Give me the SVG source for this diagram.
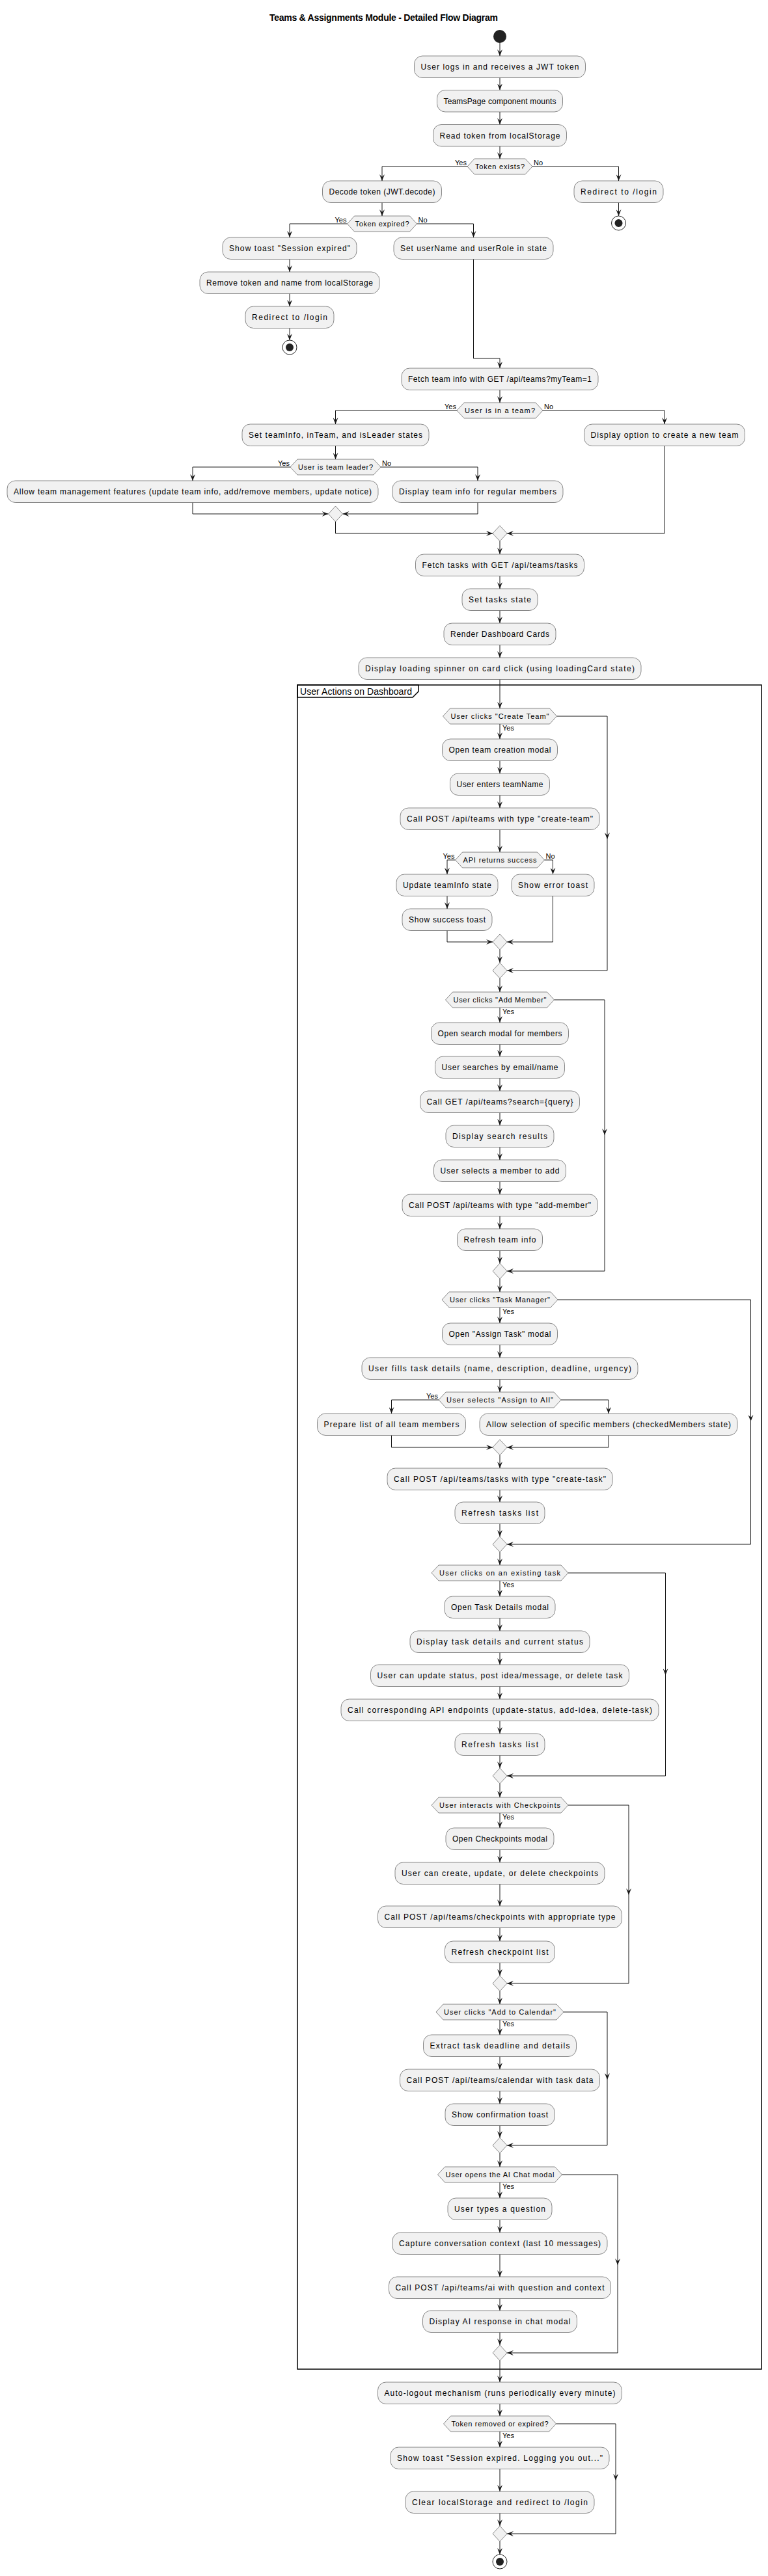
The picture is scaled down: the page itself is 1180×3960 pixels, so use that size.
<svg xmlns="http://www.w3.org/2000/svg" width="1180" height="3960" viewBox="0 0 1180 3960">
<defs>
<style>
.act{fill:#F1F1F1;stroke:#181818;stroke-width:0.5}
.t{font-family:"Liberation Sans",Arial,sans-serif;font-size:12px;fill:#000000;text-anchor:middle}
.ht{font-size:11px}
.lbl{font-family:"Liberation Sans",Arial,sans-serif;font-size:11px;fill:#000000}
.end{text-anchor:end}
.c{fill:none;stroke:#181818;stroke-width:1}
.ttl{font-family:"Liberation Sans",Arial,sans-serif;font-size:14px;font-weight:bold;fill:#000000;text-anchor:middle}
.frame{fill:none;stroke:#000000;stroke-width:1.5}
.start{fill:#222222}
.stopo{fill:none;stroke:#222222;stroke-width:1}
.stopi{fill:#222222}
</style>
<marker id="ah" viewBox="0 0 10 8" refX="10" refY="4" markerWidth="10" markerHeight="8" markerUnits="userSpaceOnUse" orient="auto"><path d="M0,0 L10,4 L0,8 L4,4 Z" fill="#181818"/></marker>
</defs>
<rect width="1180" height="3960" fill="#FFFFFF"/>
<text class="ttl" x="589.5" y="32" textLength="351" lengthAdjust="spacing">Teams &amp; Assignments Module - Detailed Flow Diagram</text>

<g id="frame">
<rect class="frame" x="457" y="1053" width="713" height="2589"/>
<polygon class="frame" points="457,1053 643,1053 643,1063 634,1072 457,1072"/>
<text class="lbl" style="font-size:14px" x="461" y="1068" textLength="172" lengthAdjust="spacing">User Actions on Dashboard</text>
</g>

<g id="connectors">
<path class="c" d="M768,66 V86" marker-end="url(#ah)"/>
<path class="c" d="M768,119.5 V138.5" marker-end="url(#ah)"/>
<path class="c" d="M768,172 V191.5" marker-end="url(#ah)"/>
<path class="c" d="M768,225 V244" marker-end="url(#ah)"/>
<path class="c" d="M718,256 H587 V278" marker-end="url(#ah)"/>
<path class="c" d="M818,256 H950.5 V278" marker-end="url(#ah)"/>
<path class="c" d="M950.5,311.5 V332" marker-end="url(#ah)"/>
<path class="c" d="M587,311.5 V332" marker-end="url(#ah)"/>
<path class="c" d="M533.5,344 H445 V365" marker-end="url(#ah)"/>
<path class="c" d="M640.5,344 H727.5 V365" marker-end="url(#ah)"/>
<path class="c" d="M445,398.5 V418" marker-end="url(#ah)"/>
<path class="c" d="M445,451.5 V471" marker-end="url(#ah)"/>
<path class="c" d="M445,504.5 V523" marker-end="url(#ah)"/>
<path class="c" d="M727.5,398.5 V551 H768 V566" marker-end="url(#ah)"/>
<path class="c" d="M768,599.5 V619" marker-end="url(#ah)"/>
<path class="c" d="M702,631 H515.5 V652" marker-end="url(#ah)"/>
<path class="c" d="M834,631 H1021 V652" marker-end="url(#ah)"/>
<path class="c" d="M515.5,685.5 V706" marker-end="url(#ah)"/>
<path class="c" d="M446,718 H296 V739" marker-end="url(#ah)"/>
<path class="c" d="M585,718 H734 V739" marker-end="url(#ah)"/>
<path class="c" d="M296,772.5 V790 H504.5" marker-end="url(#ah)"/>
<path class="c" d="M734,772.5 V790 H526.5" marker-end="url(#ah)"/>
<path class="c" d="M515.5,802 V820 H757" marker-end="url(#ah)"/>
<path class="c" d="M1021,685.5 V820 H779" marker-end="url(#ah)"/>
<path class="c" d="M768,832 V852" marker-end="url(#ah)"/>
<path class="c" d="M768,885.5 V905" marker-end="url(#ah)"/>
<path class="c" d="M768,938.5 V958" marker-end="url(#ah)"/>
<path class="c" d="M768,991.5 V1011" marker-end="url(#ah)"/>
<path class="c" d="M768,1044.5 V1089" marker-end="url(#ah)"/>
<path class="c" d="M768,1113 V1136" marker-end="url(#ah)"/>
<path class="c" d="M768,1169.5 V1189" marker-end="url(#ah)"/>
<path class="c" d="M768,1222.5 V1242" marker-end="url(#ah)"/>
<path class="c" d="M768,1275.5 V1310" marker-end="url(#ah)"/>
<path class="c" d="M699.5,1322 H687 V1344" marker-end="url(#ah)"/>
<path class="c" d="M836.5,1322 H849.5 V1344" marker-end="url(#ah)"/>
<path class="c" d="M687,1377.5 V1397" marker-end="url(#ah)"/>
<path class="c" d="M687,1430.5 V1448 H757" marker-end="url(#ah)"/>
<path class="c" d="M849.5,1377.5 V1448 H779" marker-end="url(#ah)"/>
<path class="c" d="M768,1460 V1480" marker-end="url(#ah)"/>
<path class="c" d="M855.5,1101 H933 V1290" marker-end="url(#ah)"/>
<path class="c" d="M933,1290 V1492 H779" marker-end="url(#ah)"/>
<path class="c" d="M768,1504 V1525" marker-end="url(#ah)"/>
<path class="c" d="M768,1549 V1572" marker-end="url(#ah)"/>
<path class="c" d="M768,1605.5 V1624" marker-end="url(#ah)"/>
<path class="c" d="M768,1657.5 V1677" marker-end="url(#ah)"/>
<path class="c" d="M768,1710.5 V1730" marker-end="url(#ah)"/>
<path class="c" d="M768,1763.5 V1783" marker-end="url(#ah)"/>
<path class="c" d="M768,1816.5 V1836" marker-end="url(#ah)"/>
<path class="c" d="M768,1869.5 V1889" marker-end="url(#ah)"/>
<path class="c" d="M768,1922.5 V1942" marker-end="url(#ah)"/>
<path class="c" d="M851.5,1537 H929 V1745" marker-end="url(#ah)"/>
<path class="c" d="M929,1745 V1954 H779" marker-end="url(#ah)"/>
<path class="c" d="M768,1966 V1986" marker-end="url(#ah)"/>
<path class="c" d="M768,2010 V2034" marker-end="url(#ah)"/>
<path class="c" d="M768,2067.5 V2087" marker-end="url(#ah)"/>
<path class="c" d="M768,2120.5 V2140" marker-end="url(#ah)"/>
<path class="c" d="M674,2152 H601.5 V2173" marker-end="url(#ah)"/>
<path class="c" d="M862,2152 H935 V2173" marker-end="url(#ah)"/>
<path class="c" d="M601.5,2206.5 V2225 H757" marker-end="url(#ah)"/>
<path class="c" d="M935,2206.5 V2225 H779" marker-end="url(#ah)"/>
<path class="c" d="M768,2237 V2257" marker-end="url(#ah)"/>
<path class="c" d="M768,2290.5 V2309" marker-end="url(#ah)"/>
<path class="c" d="M768,2342.5 V2362" marker-end="url(#ah)"/>
<path class="c" d="M857,1998 H1153.5 V2185" marker-end="url(#ah)"/>
<path class="c" d="M1153.5,2185 V2374 H779" marker-end="url(#ah)"/>
<path class="c" d="M768,2386 V2406" marker-end="url(#ah)"/>
<path class="c" d="M768,2430 V2454" marker-end="url(#ah)"/>
<path class="c" d="M768,2487.5 V2507" marker-end="url(#ah)"/>
<path class="c" d="M768,2540.5 V2559" marker-end="url(#ah)"/>
<path class="c" d="M768,2592.5 V2612" marker-end="url(#ah)"/>
<path class="c" d="M768,2645.5 V2665" marker-end="url(#ah)"/>
<path class="c" d="M768,2698.5 V2718" marker-end="url(#ah)"/>
<path class="c" d="M873,2418 H1022.5 V2575" marker-end="url(#ah)"/>
<path class="c" d="M1022.5,2575 V2730 H779" marker-end="url(#ah)"/>
<path class="c" d="M768,2742 V2763" marker-end="url(#ah)"/>
<path class="c" d="M768,2787 V2810" marker-end="url(#ah)"/>
<path class="c" d="M768,2843.5 V2863" marker-end="url(#ah)"/>
<path class="c" d="M768,2896.5 V2930" marker-end="url(#ah)"/>
<path class="c" d="M768,2963.5 V2984" marker-end="url(#ah)"/>
<path class="c" d="M768,3017.5 V3037" marker-end="url(#ah)"/>
<path class="c" d="M873,2775 H966 V2913" marker-end="url(#ah)"/>
<path class="c" d="M966,2913 V3049 H779" marker-end="url(#ah)"/>
<path class="c" d="M768,3061 V3081" marker-end="url(#ah)"/>
<path class="c" d="M768,3105 V3128" marker-end="url(#ah)"/>
<path class="c" d="M768,3161.5 V3181" marker-end="url(#ah)"/>
<path class="c" d="M768,3214.5 V3234" marker-end="url(#ah)"/>
<path class="c" d="M768,3267.5 V3286" marker-end="url(#ah)"/>
<path class="c" d="M866,3093 H933 V3197" marker-end="url(#ah)"/>
<path class="c" d="M933,3197 V3298 H779" marker-end="url(#ah)"/>
<path class="c" d="M768,3310 V3331" marker-end="url(#ah)"/>
<path class="c" d="M768,3355 V3379" marker-end="url(#ah)"/>
<path class="c" d="M768,3412.5 V3432" marker-end="url(#ah)"/>
<path class="c" d="M768,3465.5 V3500" marker-end="url(#ah)"/>
<path class="c" d="M768,3533.5 V3552" marker-end="url(#ah)"/>
<path class="c" d="M768,3585.5 V3605" marker-end="url(#ah)"/>
<path class="c" d="M863.5,3343 H949 V3482" marker-end="url(#ah)"/>
<path class="c" d="M949,3482 V3617 H779" marker-end="url(#ah)"/>
<path class="c" d="M768,3629 V3662" marker-end="url(#ah)"/>
<path class="c" d="M768,3695.5 V3714" marker-end="url(#ah)"/>
<path class="c" d="M768,3738 V3762" marker-end="url(#ah)"/>
<path class="c" d="M768,3795.5 V3830" marker-end="url(#ah)"/>
<path class="c" d="M768,3863.5 V3883" marker-end="url(#ah)"/>
<path class="c" d="M854.5,3726 H946 V3813" marker-end="url(#ah)"/>
<path class="c" d="M946,3813 V3895 H779" marker-end="url(#ah)"/>
<path class="c" d="M768,3907 V3927" marker-end="url(#ah)"/>
<text class="lbl end" x="717" y="254">Yes</text>
<text class="lbl" x="820" y="254">No</text>
<text class="lbl end" x="532.5" y="342">Yes</text>
<text class="lbl" x="642.5" y="342">No</text>
<text class="lbl end" x="701" y="629">Yes</text>
<text class="lbl" x="836" y="629">No</text>
<text class="lbl end" x="445" y="716">Yes</text>
<text class="lbl" x="587" y="716">No</text>
<text class="lbl" x="772" y="1123">Yes</text>
<text class="lbl end" x="698.5" y="1320">Yes</text>
<text class="lbl" x="838.5" y="1320">No</text>
<text class="lbl" x="772" y="1559">Yes</text>
<text class="lbl" x="772" y="2020">Yes</text>
<text class="lbl end" x="673" y="2150">Yes</text>
<text class="lbl" x="772" y="2440">Yes</text>
<text class="lbl" x="772" y="2797">Yes</text>
<text class="lbl" x="772" y="3115">Yes</text>
<text class="lbl" x="772" y="3365">Yes</text>
<text class="lbl" x="772" y="3748">Yes</text>
</g>

<g id="start"><circle class="start" cx="768" cy="56" r="10"/></g>
<g id="stop1"><circle class="stopo" cx="950.5" cy="343" r="11"/><circle class="stopi" cx="950.5" cy="343" r="6"/></g>
<g id="stop2"><circle class="stopo" cx="445" cy="534" r="11"/><circle class="stopi" cx="445" cy="534" r="6"/></g>
<g id="stop3"><circle class="stopo" cx="768" cy="3938" r="11"/><circle class="stopi" cx="768" cy="3938" r="6"/></g>

<g id="n1"><rect class="act" x="636.5" y="86" width="263" height="33.5" rx="12.5"/><text class="t" x="768" y="107" textLength="243" lengthAdjust="spacing">User logs in and receives a JWT token</text></g>
<g id="n2"><rect class="act" x="671.5" y="138.5" width="193" height="33.5" rx="12.5"/><text class="t" x="768" y="159.5" textLength="173" lengthAdjust="spacing">TeamsPage component mounts</text></g>
<g id="n3"><rect class="act" x="665.5" y="191.5" width="205" height="33.5" rx="12.5"/><text class="t" x="768" y="212.5" textLength="185" lengthAdjust="spacing">Read token from localStorage</text></g>
<g id="d1"><polygon class="act" points="718,256 729,244 807,244 818,256 807,268 729,268"/><text class="t ht" x="768" y="260" textLength="76" lengthAdjust="spacing">Token exists?</text></g>
<g id="n4"><rect class="act" x="495.5" y="278" width="183" height="33.5" rx="12.5"/><text class="t" x="587" y="299" textLength="163" lengthAdjust="spacing">Decode token (JWT.decode)</text></g>
<g id="n5"><rect class="act" x="882" y="278" width="137" height="33.5" rx="12.5"/><text class="t" x="950.5" y="299" textLength="117" lengthAdjust="spacing">Redirect to /login</text></g>
<g id="d2"><polygon class="act" points="533.5,344 544.5,332 629.5,332 640.5,344 629.5,356 544.5,356"/><text class="t ht" x="587" y="348" textLength="83" lengthAdjust="spacing">Token expired?</text></g>
<g id="n6"><rect class="act" x="342" y="365" width="206" height="33.5" rx="12.5"/><text class="t" x="445" y="386" textLength="186" lengthAdjust="spacing">Show toast "Session expired"</text></g>
<g id="n7"><rect class="act" x="307" y="418" width="276" height="33.5" rx="12.5"/><text class="t" x="445" y="439" textLength="256" lengthAdjust="spacing">Remove token and name from localStorage</text></g>
<g id="n8"><rect class="act" x="377" y="471" width="136" height="33.5" rx="12.5"/><text class="t" x="445" y="492" textLength="116" lengthAdjust="spacing">Redirect to /login</text></g>
<g id="n9"><rect class="act" x="605" y="365" width="245" height="33.5" rx="12.5"/><text class="t" x="727.5" y="386" textLength="225" lengthAdjust="spacing">Set userName and userRole in state</text></g>
<g id="n10"><rect class="act" x="617" y="566" width="302" height="33.5" rx="12.5"/><text class="t" x="768" y="587" textLength="282" lengthAdjust="spacing">Fetch team info with GET /api/teams?myTeam=1</text></g>
<g id="d3"><polygon class="act" points="702,631 713,619 823,619 834,631 823,643 713,643"/><text class="t ht" x="768" y="635" textLength="108" lengthAdjust="spacing">User is in a team?</text></g>
<g id="n11"><rect class="act" x="372" y="652" width="287" height="33.5" rx="12.5"/><text class="t" x="515.5" y="673" textLength="267" lengthAdjust="spacing">Set teamInfo, inTeam, and isLeader states</text></g>
<g id="n12"><rect class="act" x="897.5" y="652" width="247" height="33.5" rx="12.5"/><text class="t" x="1021" y="673" textLength="227" lengthAdjust="spacing">Display option to create a new team</text></g>
<g id="d4"><polygon class="act" points="446,718 457,706 574,706 585,718 574,730 457,730"/><text class="t ht" x="515.5" y="722" textLength="115" lengthAdjust="spacing">User is team leader?</text></g>
<g id="n13"><rect class="act" x="11" y="739" width="570" height="33.5" rx="12.5"/><text class="t" x="296" y="760" textLength="550" lengthAdjust="spacing">Allow team management features (update team info, add/remove members, update notice)</text></g>
<g id="n14"><rect class="act" x="603" y="739" width="262" height="33.5" rx="12.5"/><text class="t" x="734" y="760" textLength="242" lengthAdjust="spacing">Display team info for regular members</text></g>
<g id="m1"><polygon class="act" points="515.5,778 526.5,790 515.5,802 504.5,790"/></g>
<g id="m2"><polygon class="act" points="768,808 779,820 768,832 757,820"/></g>
<g id="n15"><rect class="act" x="638.5" y="852" width="259" height="33.5" rx="12.5"/><text class="t" x="768" y="873" textLength="239" lengthAdjust="spacing">Fetch tasks with GET /api/teams/tasks</text></g>
<g id="n16"><rect class="act" x="710" y="905" width="116" height="33.5" rx="12.5"/><text class="t" x="768" y="926" textLength="96" lengthAdjust="spacing">Set tasks state</text></g>
<g id="n17"><rect class="act" x="682" y="958" width="172" height="33.5" rx="12.5"/><text class="t" x="768" y="979" textLength="152" lengthAdjust="spacing">Render Dashboard Cards</text></g>
<g id="n18"><rect class="act" x="551" y="1011" width="434" height="33.5" rx="12.5"/><text class="t" x="768" y="1032" textLength="414" lengthAdjust="spacing">Display loading spinner on card click (using loadingCard state)</text></g>

<g id="h1"><polygon class="act" points="680.5,1101 691.5,1089 844.5,1089 855.5,1101 844.5,1113 691.5,1113"/><text class="t ht" x="768" y="1105" textLength="151" lengthAdjust="spacing">User clicks "Create Team"</text></g>
<g id="n19"><rect class="act" x="679.5" y="1136" width="177" height="33.5" rx="12.5"/><text class="t" x="768" y="1157" textLength="157" lengthAdjust="spacing">Open team creation modal</text></g>
<g id="n20"><rect class="act" x="691.5" y="1189" width="153" height="33.5" rx="12.5"/><text class="t" x="768" y="1210" textLength="133" lengthAdjust="spacing">User enters teamName</text></g>
<g id="n21"><rect class="act" x="615" y="1242" width="306" height="33.5" rx="12.5"/><text class="t" x="768" y="1263" textLength="286" lengthAdjust="spacing">Call POST /api/teams with type "create-team"</text></g>
<g id="d5"><polygon class="act" points="699.5,1322 710.5,1310 825.5,1310 836.5,1322 825.5,1334 710.5,1334"/><text class="t ht" x="768" y="1326" textLength="113" lengthAdjust="spacing">API returns success</text></g>
<g id="n22"><rect class="act" x="609" y="1344" width="156" height="33.5" rx="12.5"/><text class="t" x="687" y="1365" textLength="136" lengthAdjust="spacing">Update teamInfo state</text></g>
<g id="n23"><rect class="act" x="786" y="1344" width="127" height="33.5" rx="12.5"/><text class="t" x="849.5" y="1365" textLength="107" lengthAdjust="spacing">Show error toast</text></g>
<g id="n24"><rect class="act" x="618" y="1397" width="138" height="33.5" rx="12.5"/><text class="t" x="687" y="1418" textLength="118" lengthAdjust="spacing">Show success toast</text></g>
<g id="m3"><polygon class="act" points="768,1436 779,1448 768,1460 757,1448"/></g>
<g id="m4"><polygon class="act" points="768,1480 779,1492 768,1504 757,1492"/></g>

<g id="h2"><polygon class="act" points="684.5,1537 695.5,1525 840.5,1525 851.5,1537 840.5,1549 695.5,1549"/><text class="t ht" x="768" y="1541" textLength="143" lengthAdjust="spacing">User clicks "Add Member"</text></g>
<g id="n25"><rect class="act" x="662.5" y="1572" width="211" height="33.5" rx="12.5"/><text class="t" x="768" y="1593" textLength="191" lengthAdjust="spacing">Open search modal for members</text></g>
<g id="n26"><rect class="act" x="668.5" y="1624" width="199" height="33.5" rx="12.5"/><text class="t" x="768" y="1645" textLength="179" lengthAdjust="spacing">User searches by email/name</text></g>
<g id="n27"><rect class="act" x="645.5" y="1677" width="245" height="33.5" rx="12.5"/><text class="t" x="768" y="1698" textLength="225" lengthAdjust="spacing">Call GET /api/teams?search={query}</text></g>
<g id="n28"><rect class="act" x="685" y="1730" width="166" height="33.5" rx="12.5"/><text class="t" x="768" y="1751" textLength="146" lengthAdjust="spacing">Display search results</text></g>
<g id="n29"><rect class="act" x="666.5" y="1783" width="203" height="33.5" rx="12.5"/><text class="t" x="768" y="1804" textLength="183" lengthAdjust="spacing">User selects a member to add</text></g>
<g id="n30"><rect class="act" x="618" y="1836" width="300" height="33.5" rx="12.5"/><text class="t" x="768" y="1857" textLength="280" lengthAdjust="spacing">Call POST /api/teams with type "add-member"</text></g>
<g id="n31"><rect class="act" x="702.5" y="1889" width="131" height="33.5" rx="12.5"/><text class="t" x="768" y="1910" textLength="111" lengthAdjust="spacing">Refresh team info</text></g>
<g id="m5"><polygon class="act" points="768,1942 779,1954 768,1966 757,1954"/></g>

<g id="h3"><polygon class="act" points="679,1998 690,1986 846,1986 857,1998 846,2010 690,2010"/><text class="t ht" x="768" y="2002" textLength="154" lengthAdjust="spacing">User clicks "Task Manager"</text></g>
<g id="n32"><rect class="act" x="679.5" y="2034" width="177" height="33.5" rx="12.5"/><text class="t" x="768" y="2055" textLength="157" lengthAdjust="spacing">Open "Assign Task" modal</text></g>
<g id="n33"><rect class="act" x="556" y="2087" width="424" height="33.5" rx="12.5"/><text class="t" x="768" y="2108" textLength="404" lengthAdjust="spacing">User fills task details (name, description, deadline, urgency)</text></g>
<g id="d6"><polygon class="act" points="674,2152 685,2140 851,2140 862,2152 851,2164 685,2164"/><text class="t ht" x="768" y="2156" textLength="164" lengthAdjust="spacing">User selects "Assign to All"</text></g>
<g id="n34"><rect class="act" x="487.5" y="2173" width="228" height="33.5" rx="12.5"/><text class="t" x="601.5" y="2194" textLength="208" lengthAdjust="spacing">Prepare list of all team members</text></g>
<g id="n35"><rect class="act" x="737" y="2173" width="396" height="33.5" rx="12.5"/><text class="t" x="935" y="2194" textLength="376" lengthAdjust="spacing">Allow selection of specific members (checkedMembers state)</text></g>
<g id="m6"><polygon class="act" points="768,2213 779,2225 768,2237 757,2225"/></g>
<g id="n36"><rect class="act" x="595" y="2257" width="346" height="33.5" rx="12.5"/><text class="t" x="768" y="2278" textLength="326" lengthAdjust="spacing">Call POST /api/teams/tasks with type "create-task"</text></g>
<g id="n37"><rect class="act" x="699" y="2309" width="138" height="33.5" rx="12.5"/><text class="t" x="768" y="2330" textLength="118" lengthAdjust="spacing">Refresh tasks list</text></g>
<g id="m7"><polygon class="act" points="768,2362 779,2374 768,2386 757,2374"/></g>

<g id="h4"><polygon class="act" points="663,2418 674,2406 862,2406 873,2418 862,2430 674,2430"/><text class="t ht" x="768" y="2422" textLength="186" lengthAdjust="spacing">User clicks on an existing task</text></g>
<g id="n38"><rect class="act" x="683" y="2454" width="170" height="33.5" rx="12.5"/><text class="t" x="768" y="2475" textLength="150" lengthAdjust="spacing">Open Task Details modal</text></g>
<g id="n39"><rect class="act" x="630" y="2507" width="276" height="33.5" rx="12.5"/><text class="t" x="768" y="2528" textLength="256" lengthAdjust="spacing">Display task details and current status</text></g>
<g id="n40"><rect class="act" x="569.5" y="2559" width="397" height="33.5" rx="12.5"/><text class="t" x="768" y="2580" textLength="377" lengthAdjust="spacing">User can update status, post idea/message, or delete task</text></g>
<g id="n41"><rect class="act" x="524" y="2612" width="488" height="33.5" rx="12.5"/><text class="t" x="768" y="2633" textLength="468" lengthAdjust="spacing">Call corresponding API endpoints (update-status, add-idea, delete-task)</text></g>
<g id="n42"><rect class="act" x="699" y="2665" width="138" height="33.5" rx="12.5"/><text class="t" x="768" y="2686" textLength="118" lengthAdjust="spacing">Refresh tasks list</text></g>
<g id="m8"><polygon class="act" points="768,2718 779,2730 768,2742 757,2730"/></g>

<g id="h5"><polygon class="act" points="663,2775 674,2763 862,2763 873,2775 862,2787 674,2787"/><text class="t ht" x="768" y="2779" textLength="186" lengthAdjust="spacing">User interacts with Checkpoints</text></g>
<g id="n43"><rect class="act" x="685" y="2810" width="166" height="33.5" rx="12.5"/><text class="t" x="768" y="2831" textLength="146" lengthAdjust="spacing">Open Checkpoints modal</text></g>
<g id="n44"><rect class="act" x="607" y="2863" width="322" height="33.5" rx="12.5"/><text class="t" x="768" y="2884" textLength="302" lengthAdjust="spacing">User can create, update, or delete checkpoints</text></g>
<g id="n45"><rect class="act" x="580.5" y="2930" width="375" height="33.5" rx="12.5"/><text class="t" x="768" y="2951" textLength="355" lengthAdjust="spacing">Call POST /api/teams/checkpoints with appropriate type</text></g>
<g id="n46"><rect class="act" x="683.5" y="2984" width="169" height="33.5" rx="12.5"/><text class="t" x="768" y="3005" textLength="149" lengthAdjust="spacing">Refresh checkpoint list</text></g>
<g id="m9"><polygon class="act" points="768,3037 779,3049 768,3061 757,3049"/></g>

<g id="h6"><polygon class="act" points="670,3093 681,3081 855,3081 866,3093 855,3105 681,3105"/><text class="t ht" x="768" y="3097" textLength="172" lengthAdjust="spacing">User clicks "Add to Calendar"</text></g>
<g id="n47"><rect class="act" x="650.5" y="3128" width="235" height="33.5" rx="12.5"/><text class="t" x="768" y="3149" textLength="215" lengthAdjust="spacing">Extract task deadline and details</text></g>
<g id="n48"><rect class="act" x="614.5" y="3181" width="307" height="33.5" rx="12.5"/><text class="t" x="768" y="3202" textLength="287" lengthAdjust="spacing">Call POST /api/teams/calendar with task data</text></g>
<g id="n49"><rect class="act" x="684" y="3234" width="168" height="33.5" rx="12.5"/><text class="t" x="768" y="3255" textLength="148" lengthAdjust="spacing">Show confirmation toast</text></g>
<g id="m10"><polygon class="act" points="768,3286 779,3298 768,3310 757,3298"/></g>

<g id="h7"><polygon class="act" points="672.5,3343 683.5,3331 852.5,3331 863.5,3343 852.5,3355 683.5,3355"/><text class="t ht" x="768" y="3347" textLength="167" lengthAdjust="spacing">User opens the AI Chat modal</text></g>
<g id="n50"><rect class="act" x="688" y="3379" width="160" height="33.5" rx="12.5"/><text class="t" x="768" y="3400" textLength="140" lengthAdjust="spacing">User types a question</text></g>
<g id="n51"><rect class="act" x="603" y="3432" width="330" height="33.5" rx="12.5"/><text class="t" x="768" y="3453" textLength="310" lengthAdjust="spacing">Capture conversation context (last 10 messages)</text></g>
<g id="n52"><rect class="act" x="597.5" y="3500" width="341" height="33.5" rx="12.5"/><text class="t" x="768" y="3521" textLength="321" lengthAdjust="spacing">Call POST /api/teams/ai with question and context</text></g>
<g id="n53"><rect class="act" x="649.5" y="3552" width="237" height="33.5" rx="12.5"/><text class="t" x="768" y="3573" textLength="217" lengthAdjust="spacing">Display AI response in chat modal</text></g>
<g id="m11"><polygon class="act" points="768,3605 779,3617 768,3629 757,3617"/></g>

<g id="n54"><rect class="act" x="580.5" y="3662" width="375" height="33.5" rx="12.5"/><text class="t" x="768" y="3683" textLength="355" lengthAdjust="spacing">Auto-logout mechanism (runs periodically every minute)</text></g>
<g id="h8"><polygon class="act" points="681.5,3726 692.5,3714 843.5,3714 854.5,3726 843.5,3738 692.5,3738"/><text class="t ht" x="768" y="3730" textLength="149" lengthAdjust="spacing">Token removed or expired?</text></g>
<g id="n55"><rect class="act" x="600" y="3762" width="336" height="33.5" rx="12.5"/><text class="t" x="768" y="3783" textLength="316" lengthAdjust="spacing">Show toast "Session expired. Logging you out..."</text></g>
<g id="n56"><rect class="act" x="623" y="3830" width="290" height="33.5" rx="12.5"/><text class="t" x="768" y="3851" textLength="270" lengthAdjust="spacing">Clear localStorage and redirect to /login</text></g>
<g id="m12"><polygon class="act" points="768,3883 779,3895 768,3907 757,3895"/></g>
</svg>
